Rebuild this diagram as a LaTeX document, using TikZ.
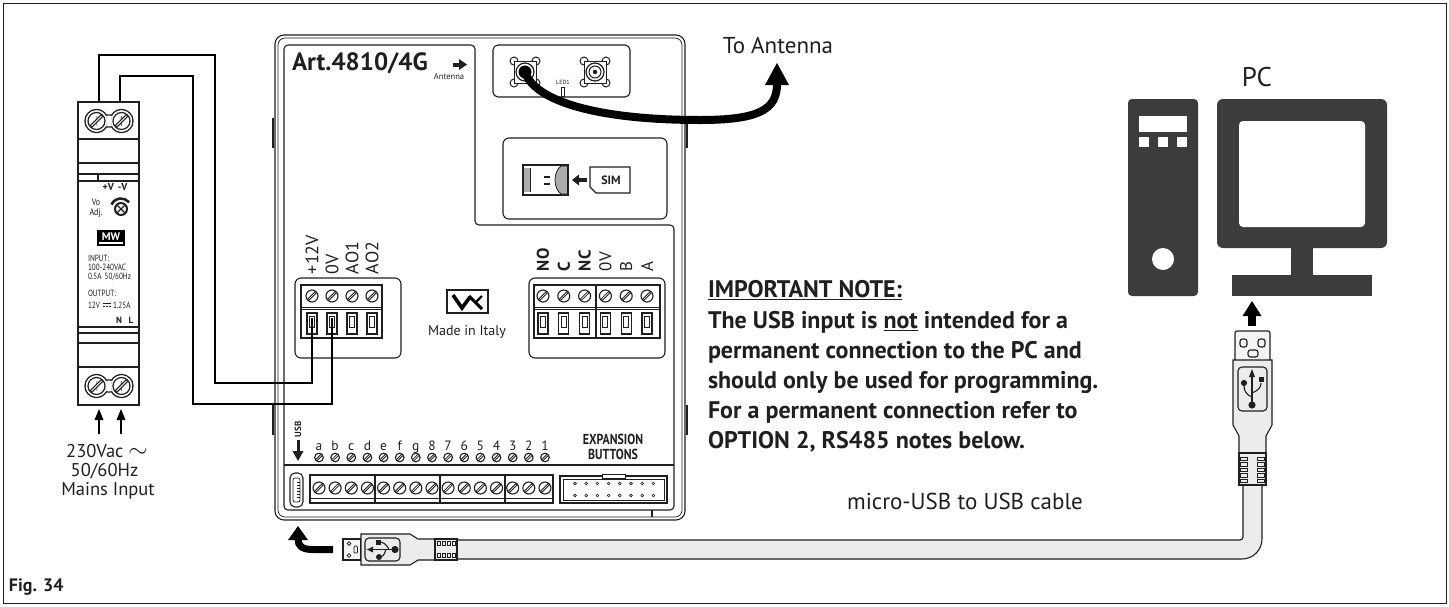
\documentclass[tikz,border=0pt]{standalone}
\usepackage{fontspec}
\setmainfont{PT Sans}
\usetikzlibrary{calc}
\definecolor{inkc}{HTML}{1F1F1F}
\definecolor{pcgrey}{HTML}{3C3C3C}
\definecolor{cablefill}{HTML}{ECECEC}
\definecolor{plugfill}{HTML}{F4F4F4}
\newcommand\fsz[1]{\fontsize{#1}{#1}\selectfont}
\begin{document}
\begin{tikzpicture}[x=1pt,y=-1pt,
  ln/.style={draw=inkc,line width=1.1},
  thinln/.style={draw=inkc,line width=0.7},
  wire/.style={draw=black,line width=2.2},
  lbl/.style={inner sep=0,outer sep=0,text=inkc},
  pics/screw/.style={code={
    \draw[inkc,line width=1.1,fill=white] (0,0) circle (6);
    \draw[inkc,line width=2.6] (-3.9,3.9) -- (3.9,-3.9);
    \draw[white,line width=0.6] (-3.4,3.4) -- (3.4,-3.4);
  }},
  pics/slot/.style={code={
    \draw[inkc,line width=1.3] (-5,0) rectangle (5,21);
    \draw[inkc,line width=0.9] (-2.5,3) rectangle (2.5,14);
  }},
  pics/sma/.style={code={
    \foreach \cx/\cy in {-11/-11,11/-11,-11/11,11/11}
      \draw[inkc,line width=1,fill=white] (\cx,\cy) circle (4);
    \draw[inkc,line width=1,fill=white] (-11,-11) rectangle (11,11);
    \draw[inkc,line width=1.2] (0,0) circle (9);
    \draw[inkc,line width=1] (0,0) circle (6);
  }},
  pics/twinscrew/.style={code={
    \draw[inkc,line width=1.4] (-12.5,0) circle (11.5) (12.5,0) circle (11.5) (-12.5,-6) rectangle (12.5,6);
    \fill[white] (-12.5,0) circle (10.7) (12.5,0) circle (10.7) (-12.5,-5.2) rectangle (12.5,5.2);
    \foreach \cx in {-12.5,12.5}{
      \draw[inkc,line width=1.2] (\cx,0) circle (8.5);
      \draw[inkc,line width=3.2] (\cx-5.5,5.5) -- (\cx+5.5,-5.5);
      \draw[white,line width=1] (\cx-4.9,4.9) -- (\cx+4.9,-4.9);
    }
  }},
]
\useasboundingbox (0,0) rectangle (1449,606);
\draw[inkc,line width=1] (3,3) rectangle (1446,603);

% ---------------- DIN-rail power supply ----------------
\draw[ln,fill=white] (78,102) rectangle (139,405);
\foreach \yy in {139,163,174,181,327,333,343,367}
  \draw[ln] (78,\yy) -- (139,\yy);
\draw[ln] (98,174) -- (98,181);
\pic at (109,121) {twinscrew};
\pic at (109,386) {twinscrew};
\node[lbl,font=\bfseries\fsz{10}] (pv) at (115,187) {+V\hspace{4pt}-V};
\node[lbl,font=\fsz{9.5},align=center] (vo) at (96,208) {\scalebox{0.85}[1]{Vo}\\[1pt]\scalebox{0.85}[1]{Adj.}};
\draw[inkc,line width=2] (121,209) circle (6);
\draw[inkc,line width=1.3] (117.5,205.5) -- (124.5,212.5) (124.5,205.5) -- (117.5,212.5);
\draw[inkc,line width=2.6] (121,209) ++(205:10.5) arc[start angle=205,end angle=320,radius=10.5];
\fill[black] (97,230) rectangle (125,246);
\node[lbl,text=white,font=\bfseries\fsz{11}] (mw) at (111,236.5) {MW};
\fill[white] (99,242) rectangle (123,244);
\node[lbl,anchor=base west,font=\fsz{9}] (in1) at (88,261) {\scalebox{0.8}[1]{INPUT:}};
\node[lbl,anchor=base west,font=\fsz{9}] (in2) at (88,270) {\scalebox{0.8}[1]{100-240VAC}};
\node[lbl,anchor=base west,font=\fsz{9}] (in3) at (88,279) {\scalebox{0.8}[1]{0.5A\, 50/60Hz}};
\node[lbl,anchor=base west,font=\fsz{9}] (out1) at (88,296) {\scalebox{0.8}[1]{OUTPUT:}};
\node[lbl,anchor=base west,font=\fsz{9}] (out2) at (88,308) {\scalebox{0.8}[1]{12V}};
\draw[inkc,line width=0.8] (103,303.5) -- (111,303.5);
\draw[inkc,line width=0.8,dash pattern=on 2pt off 1pt] (103,306) -- (111,306);
\node[lbl,anchor=base west,font=\fsz{9}] (out3) at (113,308) {\scalebox{0.8}[1]{1.25A}};
\node[lbl,anchor=base,font=\bfseries\fsz{9}] (nn) at (119,323) {N};
\node[lbl,anchor=base,font=\bfseries\fsz{9}] (ll) at (131,323) {L};
\foreach \ax in {99,121}{
  \draw[black,line width=2] (\ax,434) -- (\ax,418);
  \fill[black] (\ax-4.5,420) -- (\ax+4.5,420) -- (\ax,409) -- cycle;
}
\node[lbl,anchor=base,font=\fsz{18.5}] (mains1) at (107,457) {230Vac {\fsz{24}$\sim$}};
\node[lbl,anchor=base,font=\fsz{18.5}] (mains2) at (104.5,476) {50/60Hz};
\node[lbl,anchor=base,font=\fsz{18.5}] (mains3) at (108,495) {Mains Input};

% ---------------- Art.4810/4G enclosure ----------------
\draw[ln,rounded corners=9] (275,35) rectangle (685,520);
\draw[thinln,rounded corners=7] (278,38) rectangle (682,517);
\foreach \tx/\ty in {273/118,687/118,273/405,687/405}
  \draw[inkc,line width=2.2] (\tx,\ty) -- (\tx,\ty+30);
\draw[ln,rounded corners=4] (284,45) -- (475,45) -- (475,225) -- (674,225) -- (674,510) -- (284,510) -- cycle;
\draw[ln] (284,465) -- (674,465);
\draw[ln] (652,510) -- (652,517);

\node[lbl,anchor=base west,font=\bfseries\fsz{25}] (title) at (292,70) {Art.4810/4G};
\fill[inkc] (453,62.5) rectangle (460,66.5);
\fill[inkc] (459,59) -- (467,64.5) -- (459,70) -- cycle;
\node[lbl,font=\fsz{8.5}] (antlbl) at (449,77) {Antenna};

% antenna connectors
\draw[ln,rounded corners=5] (493,45) rectangle (630,97);
\pic at (525,72) {sma};
\pic at (595,72) {sma};
\fill[inkc] (595,72) circle (2.2);
\node[lbl,font=\fsz{6}] (led) at (563,82) {LED1};
\draw[inkc,line width=0.8] (561.5,87) rectangle (564.5,96);
\coordinate (antA) at (525,72);
\coordinate (antB) at (777,84);
\fill[black] (antA) circle (6);
\draw[black,line width=8] (antA) .. controls (535,102) and (600,120) .. (700,120) .. controls (758,120) and (777,110) .. (antB);
\fill[black] (765,85) -- (789,85) -- (777,63) -- cycle;
\node[lbl,font=\fsz{23}] (toant) at (778,45) {To Antenna};

% SIM holder
\draw[ln,rounded corners=6] (503,138) rectangle (667,219);
\draw[ln] (523,165) rectangle (568,195);
\fill[gray!65] (523.6,168) rectangle (530,192);
\draw[thinln] (530,168) -- (530,192);
\filldraw[fill=gray!65,draw=inkc,line width=0.8] (567.4,166) -- (561,166) .. controls (553,172) and (553,188) .. (561,194) -- (567.4,194) -- cycle;
\draw[inkc,line width=2.2] (544,177) -- (550,177) (544,184) -- (550,184);
\fill[inkc] (578,178) rectangle (587,182);
\fill[inkc] (579,174.5) -- (572,180) -- (579,185.5) -- cycle;
\draw[inkc,line width=1.4] (590,167) -- (630,167) -- (630,193) -- (596,193) -- (590,187) -- cycle;
\node[lbl,font=\bfseries\fsz{12}] (sim) at (611,180) {SIM};

% power / analogue terminal block
\draw[ln,rounded corners=6] (295,278) rectangle (401,358);
\draw[ln] (301,285) rectangle (382,338);
\draw[thinln] (301,307) -- (382,307);
\draw[thinln] (301,309.5) -- (382,309.5);
\foreach \tx/\tl in {312/+12V,332/0V,352/AO1,372/AO2}{
  \pic at (\tx,296) {screw};
  \pic at (\tx,313) {slot};
  \node[lbl,rotate=90,anchor=west,font=\fsz{18}] at (\tx,274) {\tl};
}

% relay / RS485 terminal block
\draw[ln,rounded corners=6] (529,278) rectangle (665,358);
\draw[ln] (534,285) rectangle (660,338);
\draw[thinln] (534,307) -- (660,307);
\draw[thinln] (534,309.5) -- (660,309.5);
\draw[ln] (596,285) -- (596,338);
\foreach \tl/\tf [count=\i from 0] in {NO/\bfseries,C/\bfseries,NC/\bfseries,0V/,B/,A/}{
  \pgfmathsetmacro\tx{543+20.8*\i}
  \pic at (\tx,296) {screw};
  \pic at (\tx,313) {slot};
  \node[lbl,rotate=90,anchor=west,font=\tf\fsz{17}] at (\tx,271) {\tl};
}

% maker logo
\draw[inkc,line width=1.5] (447,290) rectangle (488,313);
\draw[black,line width=3.6] (453,295) -- (462,308) -- (470,297);
\draw[black,line width=3] (469,296) -- (482,309);
\draw[black,line width=2.2] (482,296) -- (476,302);
\node[lbl,font=\fsz{14}] (made) at (467,332) {Made in Italy};

% micro-USB socket
\draw[ln,rounded corners=5] (290,473) rectangle (303,507);
\draw[thinln,rounded corners=2] (293,478) rectangle (300,502);
\foreach \yy in {482,485,...,499} \draw[inkc,line width=0.5] (297,\yy) -- (300,\yy);
\node[lbl,rotate=90,anchor=west,font=\bfseries\fsz{9}] (usbl) at (298,437) {USB};
\fill[inkc] (296.5,440) rectangle (299.5,452);
\fill[inkc] (292.5,451) -- (303.5,451) -- (298,461) -- cycle;

% input terminal strip
\draw[ln] (310,475) rectangle (553,503);
\draw[thinln] (310,498) -- (553,498);
\foreach \sx in {375,440,505} \draw[ln] (\sx,475) -- (\sx,503);
\foreach \lab [count=\i from 0] in {a,b,c,d,e,f,g,8,7,6,5,4,3,2,1}{
  \pgfmathsetmacro\tx{319+16.14*\i}
  \pic at (\tx,488) {screw};
  \pic[scale=0.72] at (\tx,457.5) {screw};
  \node[lbl,anchor=base,font=\fsz{13.5}] (lab\i) at (\tx,450) {\lab};
}

% expansion header
\draw[ln] (560,476) rectangle (667,503);
\draw[thinln] (563,479) rectangle (664,500);
\draw[thinln,fill=white] (602,474) rectangle (625,478);
\foreach \i in {0,...,7}{
  \draw[inkc,line width=0.6] (575+11.2*\i,483.5) circle (1.4);
  \draw[inkc,line width=0.6] (575+11.2*\i,495.5) circle (1.4);
}
\node[lbl,font=\bfseries\fsz{14.5},align=center] (exp) at (613,447) {\scalebox{0.82}[1]{EXPANSION}\\\scalebox{0.82}[1]{BUTTONS}};

% wiring from the power supply
\coordinate (psuP) at (99,102);
\coordinate (psuN) at (120,102);
\coordinate (t12) at (312,318);
\coordinate (t0) at (332,318);
\draw[wire] (psuP) |- (215,55) |- (312,383) -- (t12);
\draw[wire] (psuN) |- (193,76) |- (332,404) -- (t0);

% ---------------- note ----------------
\node[lbl,anchor=base west,font=\bfseries\fsz{24}] (note1) at (708,297) {\underline{IMPORTANT NOTE:}};
\node[lbl,anchor=base west,font=\bfseries\fsz{24}] (note2) at (708,328) {The USB input is \underline{not} intended for a};
\node[lbl,anchor=base west,font=\bfseries\fsz{24}] (note3) at (708,358) {permanent connection to the PC and};
\node[lbl,anchor=base west,font=\bfseries\fsz{24}] (note4) at (708,388) {should only be used for programming.};
\node[lbl,anchor=base west,font=\bfseries\fsz{24}] (note5) at (708,418) {For a permanent connection refer to};
\node[lbl,anchor=base west,font=\bfseries\fsz{24}] (note6) at (708,448) {OPTION 2, RS485 notes below.};

% ---------------- PC ----------------
\node[lbl,font=\fsz{27}] (pc) at (1257,77) {PC};
\fill[pcgrey,rounded corners=4] (1128,99) rectangle (1198,296);
\fill[white] (1139,116) rectangle (1187,132);
\foreach \bx in {1139,1158,1177} \fill[white] (\bx,137) rectangle (\bx+10,147);
\fill[white] (1163,259) circle (11);
\fill[pcgrey,rounded corners=6] (1217,99) rectangle (1387,248);
\fill[white,rounded corners=4] (1239,121) rectangle (1365,227);
\fill[pcgrey] (1291,246) rectangle (1313,276);
\fill[pcgrey] (1232,275) rectangle (1372,296);

% ---------------- USB cable ----------------
\draw[ln,fill=cablefill] (455,540) -- (1240,540) arc[start angle=90,end angle=0,radius=3] -- (1243,485) -- (1262,485) -- (1262,539) arc[start angle=0,end angle=90,radius=20] -- (455,559) -- cycle;
\node[lbl,font=\fsz{23}] (cabletxt) at (965,501) {micro-USB to USB cable};

% USB-A plug
\fill[black] (1248,314) rectangle (1256,326);
\fill[black] (1242.5,316) -- (1261.5,316) -- (1252,301) -- cycle;
\draw[ln,fill=plugfill,rounded corners=2] (1235,360) -- (1235,331) -- (1270,331) -- (1270,360);
\draw[ln,rounded corners=2.5] (1240,339) rectangle (1247,347);
\draw[ln,rounded corners=2.5] (1258,339) rectangle (1265,347);
\draw[ln,rounded corners=2.5] (1248,350) rectangle (1258,357);
\draw[ln,fill=cablefill] (1233,360) -- (1272,360) -- (1272,425) -- (1266,436) -- (1266,453) -- (1239,453) -- (1239,436) -- (1233,425) -- cycle;
\draw[ln,rounded corners=4] (1238,367) rectangle (1267,411);
\draw[inkc,line width=1.1] (1252,403) -- (1252,376);
\fill[inkc] (1249,377) -- (1255,377) -- (1252,369) -- cycle;
\fill[inkc] (1252,405) circle (3.6);
\draw[inkc,line width=1.1] (1252,397) .. controls (1245,394) and (1244,390) .. (1244,385);
\fill[inkc] (1244,383) circle (3.1);
\draw[inkc,line width=1.1] (1252,393) .. controls (1259,390) and (1261,387) .. (1261,383);
\fill[inkc] (1258.5,377) rectangle (1263.5,382);
\draw[ln,fill=cablefill] (1239,453) rectangle (1266,485);
\foreach \yy in {457,462.5,468,473.5,479}{
  \draw[inkc,line width=0.7] (1240.5,\yy) rectangle (1247.5,\yy+3.5);
  \draw[inkc,line width=0.7] (1257.5,\yy) rectangle (1264.5,\yy+3.5);
}

% micro-USB plug
\draw[black,line width=7] (333,549.5) -- (313,549.5) .. controls (302,549.5) and (298,546) .. (298,539);
\fill[black] (288,540) -- (308,540) -- (298,526) -- cycle;
\draw[ln,fill=plugfill] (343,539) rectangle (361,560);
\draw[thinln] (349,543.5) circle (1.8);
\draw[thinln] (349,555.5) circle (1.8);
\draw[thinln,rounded corners=1] (354,546) rectangle (357.5,553);
\draw[ln,fill=cablefill] (361,534) -- (410,534) -- (418,539) -- (435,539) -- (435,560) -- (418,560) -- (410,565) -- (361,565) -- cycle;
\draw[ln,rounded corners=4] (365,538) rectangle (400,561);
\draw[inkc,line width=1.1] (372,549.5) -- (394,549.5);
\fill[inkc] (373,546.5) -- (373,552.5) -- (367,549.5) -- cycle;
\fill[inkc] (395,549.5) circle (3.6);
\draw[inkc,line width=1.1] (389,549.5) .. controls (386,543) and (382,542) .. (379,542);
\fill[inkc] (375.5,539.5) rectangle (380.5,544.5);
\draw[inkc,line width=1.1] (386,549.5) .. controls (384,556) and (382,557) .. (380,557);
\fill[inkc] (379,557) circle (3);
\draw[ln,fill=cablefill] (435,539) rectangle (457,560);
\foreach \xx in {437,442,447,452}{
  \draw[inkc,line width=0.7] (\xx,541.5) rectangle (\xx+3.5,545.5);
  \draw[inkc,line width=0.7] (\xx,553.5) rectangle (\xx+3.5,557.5);
}

\node[lbl,anchor=base west,font=\bfseries\fsz{18}] (fig) at (9,591) {Fig. 34};
\end{tikzpicture}
\end{document}
